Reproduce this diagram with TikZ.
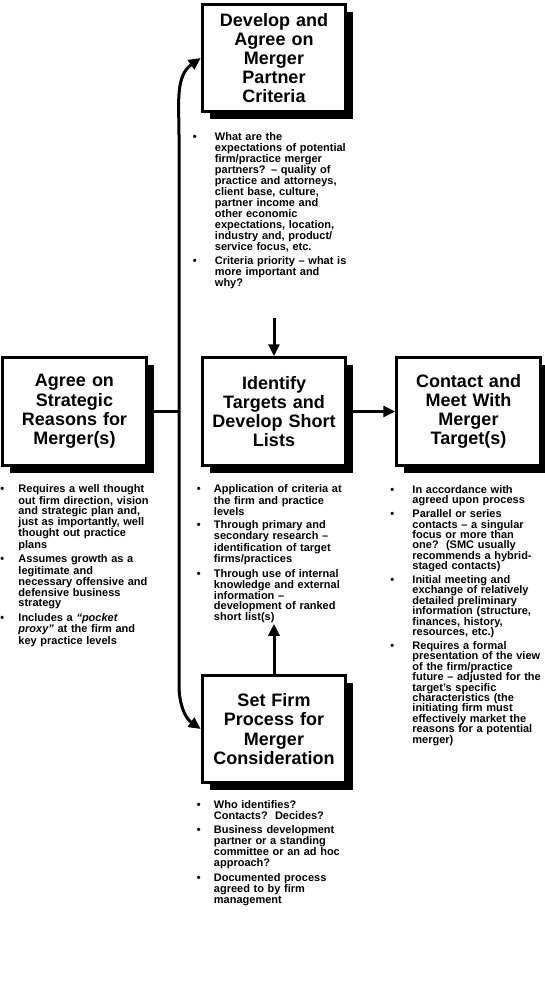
\documentclass[tikz,border=0pt]{standalone}
\usepackage{fontspec}
\setmainfont{Liberation Sans}
\usetikzlibrary{arrows.meta,positioning,shadows}
\newlength\bind
\newcommand\itm[1]{\par\hangindent=\bind\hangafter=1\noindent
  \makebox[\bind][l]{\textbullet}{\let\\\newline#1}\par\vspace{3.5pt}}
\tikzset{
  stage/.style={rectangle,draw=black,fill=white,line width=3pt,
    minimum width=143.5pt,minimum height=107.5pt,text width=138pt,inner sep=0pt,
    align=center,font=\fontsize{18}{19.2}\selectfont\bfseries,
    drop shadow={shadow xshift=7.5pt,shadow yshift=-7.5pt,opacity=1,fill=black}},
  notes/.style 2 args={inner sep=0pt,text width=170pt,align=left,
    font=\fontsize{11}{#2}\selectfont\bfseries,
    execute at begin node={\setlength{\bind}{#1}}},
  arr/.style={-{Triangle[length=12pt,width=11pt]},line width=3pt,draw=#1},
  arr/.default={black},
  bus/.style={line width=3pt,draw=black},
}

\begin{document}
\begin{tikzpicture}[x=1pt,y=1pt,node distance=20pt]
  \useasboundingbox (0,0) rectangle (544,-993);
  \node[stage] (crit) at (274,-58) {Develop and\\Agree on\\Merger\\Partner\\Criteria};
  \node[stage,below=243pt of crit] (targets) {Identify\\Targets and\\Develop Short\\Lists};
  \node[stage,left=53pt of targets] (reasons) {Agree on\\Strategic\\Reasons for\\Merger(s)};
  \node[stage,right=48pt of targets] (contact) {Contact and\\Meet With\\Merger\\Target(s)};
  \node[stage,below=207pt of targets] (proc) {Set Firm\\Process for\\Merger\\Consideration};
  \node[notes={22pt}{11},below=16pt of crit.south west,anchor=north west,xshift=-8pt] (critlist) {
    \itm{What are the\\expectations of potential\\firm/practice merger\\partners? -- quality of\\practice and attorneys,\\client base, culture,\\partner income and\\other economic\\expectations, location,\\industry and, product/\\service focus, etc.}
    \itm{Criteria priority -- what is\\more important and\\why?}};
  \node[notes={18pt}{10},below=16pt of reasons.south west,anchor=north west,xshift=-1pt] (reasonslist) {
    \itm{Requires a well thought\\out firm direction, vision\\and strategic plan and,\\just as importantly, well\\thought out practice\\plans}
    \itm{Assumes growth as a\\legitimate and\\necessary offensive and\\defensive business\\strategy}
    \itm{Includes a \textit{``pocket\\proxy''} at the firm and\\key practice levels}};
  \node[notes={17pt}{9.8},below=16pt of targets.south west,anchor=north west,xshift=-4pt] (targetslist) {
    \itm{Application of criteria at\\the firm and practice\\levels}
    \itm{Through primary and\\secondary research --\\identification of target\\firms/practices}
    \itm{Through use of internal\\knowledge and external\\information --\\development of ranked\\short list(s)}};
  \node[notes={22pt}{10.4},below=16pt of contact.south west,anchor=north west,xshift=-5pt] (contactlist) {
    \itm{In accordance with\\agreed upon process}
    \itm{Parallel or series\\contacts -- a singular\\focus or more than\\one?\ \ (SMC usually\\recommends a hybrid-\\staged contacts)}
    \itm{Initial meeting and\\exchange of relatively\\detailed preliminary\\information (structure,\\finances, history,\\resources, etc.)}
    \itm{Requires a formal\\presentation of the view\\of the firm/practice\\future -- adjusted for the\\target's specific\\characteristics (the\\initiating firm must\\effectively market the\\reasons for a potential\\merger)}};
  \node[notes={17pt}{11},below=13pt of proc.south west,anchor=north west,xshift=-4pt] (proclist) {
    \itm{Who identifies?\\Contacts?\ \ Decides?}
    \itm{Business development\\partner or a standing\\committee or an ad hoc\\approach?}
    \itm{Documented process\\agreed to by firm\\management}};
  \coordinate (bustop) at (179,-135);
  \coordinate (busbot) at (179,-685);
  \coordinate (busjoin) at (reasons.east -| bustop);
  \coordinate[above=38pt of targets.north] (critout);
  \coordinate[above=50pt of proc.north] (procout);
  \draw[bus] (reasons.east) -- (busjoin);
  \draw[arr,{Triangle[length=12pt,width=11pt]}-{Triangle[length=12pt,width=11pt]}]
    (crit.west) to[out=215,in=90] (bustop) -- (busbot) to[out=-90,in=145] (proc.west);
  \draw[arr] (critout) -- (targets.north);
  \draw[arr] (targets.east) -- (contact.west);
  \draw[arr] (proc.north) -- (procout);
\end{tikzpicture}
\end{document}
